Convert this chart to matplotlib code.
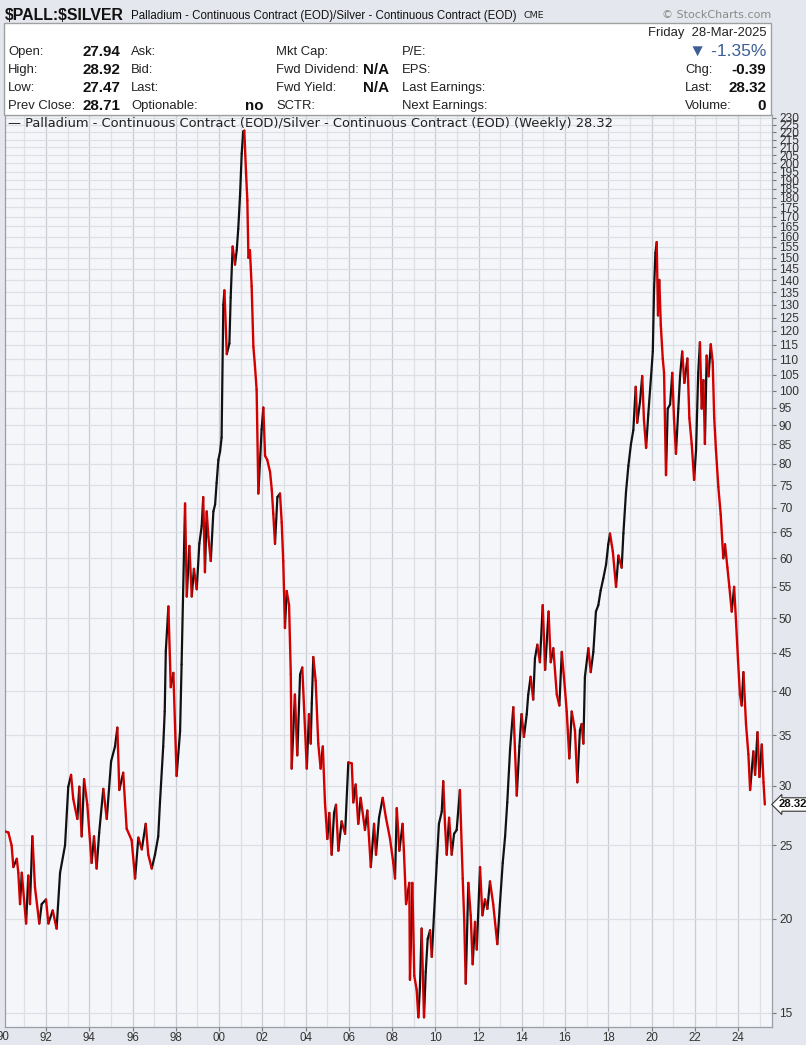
import numpy as np
import matplotlib
matplotlib.use("Agg")
import matplotlib.pyplot as plt
from matplotlib.collections import LineCollection
from matplotlib.patches import Rectangle
from matplotlib.ticker import FixedLocator, NullLocator, FixedFormatter

# ---------------- data (weekly ratio) ----------------
years = [1990.10, 1990.26, 1990.41, 1990.49, 1990.65, 1990.72, 1990.80, 1990.88, 1991.08, 1991.18,
         1991.26, 1991.37, 1991.49, 1991.69, 1991.80, 1992.00, 1992.11, 1992.31, 1992.49, 1992.65,
         1992.88, 1993.03, 1993.16, 1993.26, 1993.45, 1993.54, 1993.65, 1993.76, 1993.91, 1994.11,
         1994.22, 1994.34, 1994.46, 1994.65, 1994.81, 1995.01, 1995.19, 1995.30, 1995.39, 1995.57,
         1995.73, 1995.96, 1996.12, 1996.27, 1996.43, 1996.61, 1996.73, 1996.89, 1997.04, 1997.19,
         1997.27, 1997.42, 1997.49, 1997.54, 1997.66, 1997.77, 1997.89, 1998.04, 1998.20, 1998.27,
         1998.38, 1998.43, 1998.51, 1998.63, 1998.74, 1998.84, 1998.97, 1999.09, 1999.20, 1999.27,
         1999.35, 1999.43, 1999.51, 1999.62, 1999.74, 1999.82, 1999.89, 1999.97, 2000.05, 2000.12,
         2000.20, 2000.25, 2000.36, 2000.48, 2000.54, 2000.63, 2000.74, 2000.82, 2000.89, 2000.97,
         2001.05, 2001.12, 2001.17, 2001.25, 2001.31, 2001.36, 2001.43, 2001.51, 2001.59, 2001.66,
         2001.74, 2001.82, 2001.90, 2001.97, 2002.05, 2002.13, 2002.23, 2002.36, 2002.44, 2002.51,
         2002.59, 2002.70, 2002.82, 2002.90, 2002.97, 2003.05, 2003.13, 2003.24, 2003.32, 2003.36,
         2003.51, 2003.62, 2003.75, 2003.85, 2003.98, 2004.06, 2004.16, 2004.24, 2004.29, 2004.36,
         2004.47, 2004.59, 2004.70, 2004.80, 2004.90, 2005.01, 2005.10, 2005.21, 2005.32, 2005.41,
         2005.52, 2005.67, 2005.83, 2005.98, 2006.14, 2006.21, 2006.32, 2006.44, 2006.55, 2006.75,
         2006.86, 2007.02, 2007.17, 2007.26, 2007.40, 2007.57, 2007.72, 2007.91, 2008.06, 2008.14,
         2008.22, 2008.34, 2008.49, 2008.55, 2008.65, 2008.80, 2008.83, 2008.94, 2009.03, 2009.14,
         2009.22, 2009.29, 2009.37, 2009.48, 2009.56, 2009.65, 2009.76, 2009.84, 2009.94, 2010.07,
         2010.17, 2010.30, 2010.37, 2010.45, 2010.53, 2010.64, 2010.76, 2010.87, 2010.99, 2011.14,
         2011.27, 2011.34, 2011.41, 2011.53, 2011.64, 2011.73, 2011.84, 2011.92, 2012.07, 2012.18,
         2012.30, 2012.41, 2012.53, 2012.68, 2012.87, 2012.99, 2013.12, 2013.23, 2013.33, 2013.46,
         2013.61, 2013.77, 2013.89, 2013.99, 2014.10, 2014.23, 2014.30, 2014.41, 2014.53, 2014.61,
         2014.72, 2014.84, 2014.97, 2015.08, 2015.24, 2015.34, 2015.46, 2015.62, 2015.74, 2015.85,
         2016.00, 2016.08, 2016.20, 2016.31, 2016.46, 2016.57, 2016.69, 2016.77, 2016.85, 2016.92,
         2017.08, 2017.19, 2017.31, 2017.43, 2017.54, 2017.65, 2017.77, 2017.90, 2018.00, 2018.08,
         2018.21, 2018.36, 2018.47, 2018.62, 2018.70, 2018.82, 2018.93, 2019.05, 2019.16, 2019.27,
         2019.34, 2019.47, 2019.57, 2019.65, 2019.75, 2019.85, 2019.98, 2020.06, 2020.12, 2020.18,
         2020.24, 2020.30, 2020.36, 2020.43, 2020.52, 2020.58, 2020.67, 2020.75, 2020.86, 2020.96,
         2021.04, 2021.13, 2021.24, 2021.32, 2021.42, 2021.52, 2021.66, 2021.75, 2021.86, 2021.97,
         2022.06, 2022.16, 2022.24, 2022.32, 2022.40, 2022.47, 2022.55, 2022.64, 2022.74, 2022.83,
         2022.90, 2022.98, 2023.09, 2023.20, 2023.32, 2023.40, 2023.51, 2023.60, 2023.71, 2023.82,
         2023.91, 2024.00, 2024.09, 2024.17, 2024.25, 2024.37, 2024.48, 2024.56, 2024.71, 2024.79,
         2024.90, 2024.99, 2025.10, 2025.18, 2025.24]

ratio = [26.1, 26.0, 25.0, 23.4, 24.0, 23.0, 20.9, 23.0, 19.7, 22.8,
         20.9, 25.7, 22.0, 19.7, 20.9, 21.2, 19.7, 20.5, 19.4, 23.0,
         25.0, 29.9, 31.0, 28.8, 27.1, 29.9, 25.7, 30.6, 28.3, 23.7,
         25.7, 23.3, 26.0, 29.7, 27.1, 32.3, 33.8, 35.8, 29.6, 31.2,
         26.3, 25.4, 22.6, 25.6, 24.7, 26.7, 24.3, 23.3, 24.3, 25.7,
         28.5, 33.8, 37.6, 45.2, 51.8, 40.5, 42.3, 30.9, 35.4, 43.4,
         61.0, 70.9, 53.4, 62.3, 53.4, 58.1, 54.6, 62.7, 66.2, 72.3,
         57.5, 69.2, 64.0, 59.5, 69.2, 70.7, 75.5, 81.0, 83.1, 86.7,
         129.9, 135.8, 111.8, 115.5, 132.9, 155.2, 146.9, 153.5, 163.8, 180.8,
         206.1, 220.4, 221.0, 194.4, 178.8, 150.0, 153.5, 137.5, 114.3, 108.1,
         100.3, 73.1, 81.0, 88.9, 95.0, 82.0, 81.0, 78.1, 74.0, 68.7,
         62.7, 72.3, 73.1, 66.9, 59.5, 48.5, 54.3, 52.0, 42.1, 31.6,
         39.6, 32.9, 42.1, 43.0, 35.5, 31.6, 37.3, 34.1, 38.5, 44.4,
         41.3, 34.1, 31.6, 33.8, 28.5, 25.5, 27.6, 24.3, 27.6, 28.3,
         24.6, 26.9, 25.9, 32.2, 32.1, 28.5, 30.1, 26.7, 28.9, 26.2,
         27.8, 23.4, 26.7, 24.3, 27.2, 28.9, 27.2, 25.5, 23.7, 22.6,
         28.0, 24.6, 26.7, 24.6, 20.9, 22.3, 16.6, 22.3, 16.8, 16.1,
         14.8, 16.2, 19.4, 14.8, 17.0, 18.8, 19.3, 17.8, 20.2, 23.7,
         26.7, 27.7, 30.4, 26.7, 24.3, 27.2, 24.3, 25.9, 26.2, 29.6,
         22.6, 19.9, 16.4, 22.3, 20.2, 17.4, 19.8, 18.2, 23.4, 20.2,
         21.2, 20.6, 22.4, 20.9, 18.5, 20.9, 23.7, 25.7, 28.5, 33.5,
         38.1, 29.1, 33.8, 37.3, 34.8, 37.3, 39.6, 41.8, 39.0, 44.2,
         46.1, 43.7, 52.0, 42.7, 51.0, 43.7, 45.6, 39.6, 38.3, 45.1,
         40.2, 37.6, 32.6, 37.6, 35.5, 30.3, 35.5, 36.2, 34.1, 41.8,
         45.6, 42.4, 45.1, 51.0, 52.0, 54.4, 56.4, 58.9, 62.6, 64.7,
         61.3, 55.0, 60.5, 58.3, 64.7, 73.4, 79.5, 85.0, 88.7, 101.2,
         90.7, 96.8, 104.6, 91.6, 84.0, 93.0, 104.6, 112.7, 136.9, 152.2,
         157.3, 125.8, 140.2, 122.2, 110.3, 105.6, 77.3, 94.7, 95.9, 105.6,
         92.0, 82.5, 94.7, 104.5, 112.7, 102.4, 110.3, 92.0, 85.0, 76.2,
         83.5, 105.6, 115.9, 94.7, 103.3, 85.0, 111.3, 104.5, 115.2, 109.0,
         92.0, 83.5, 74.6, 68.6, 60.0, 62.6, 58.3, 55.0, 51.0, 55.0,
         49.4, 44.0, 39.6, 38.3, 42.4, 36.2, 33.0, 29.6, 33.3, 31.0,
         35.3, 30.8, 34.0, 30.3, 28.32]

year_ticks = list(range(1992, 2025, 2))
year_labels = ["%02d" % (y % 100) for y in year_ticks]
price_ticks = list(range(15, 231, 5))
price_labels = [str(v) for v in price_ticks]

# ---------------- figure ----------------
W, H = 806, 1045
fig = plt.figure(figsize=(W / 100, H / 100), dpi=100, facecolor="#e4e7ed")

def fx(px):
    return px / W

def fy(py):
    return 1 - py / H

SANS = ["Liberation Sans", "DejaVu Sans"]

# header
fig.text(fx(5), fy(15), r"\$PALL:\$SILVER", fontsize=11.4, fontweight="bold",
         family=SANS, va="center", ha="left", color="#111111")
fig.text(fx(131), fy(15.5), "Palladium - Continuous Contract (EOD)/Silver - Continuous Contract (EOD)",
         fontsize=8.3, family=SANS, va="center", ha="left", color="#111111")
fig.text(fx(523), fy(16), "CME", fontsize=6.8, family=["DejaVu Sans"], va="center", ha="left",
         color="#222222")
fig.text(fx(771), fy(15.5), "\u00a9 StockCharts.com", fontsize=8, family=["DejaVu Sans"],
         va="center", ha="right", color="#8a8a8a")

# info box
fig.patches.append(Rectangle((fx(4), fy(115)), (771 - 4) / W, (115 - 23) / H,
                             transform=fig.transFigure, facecolor="white",
                             edgecolor="#a0a0a0", lw=1.0, zorder=0))

lab_kw = dict(fontsize=9.4, family=SANS, va="center", color="#222222")
val_kw = dict(fontsize=10.9, family=SANS, va="center", color="#111111", fontweight="bold")
rows_y = [52, 70, 88, 106]
col1 = ["Open:", "High:", "Low:", "Prev Close:"]
col1v = ["27.94", "28.92", "27.47", "28.71"]
col2 = ["Ask:", "Bid:", "Last:", "Optionable:"]
col3 = ["Mkt Cap:", "Fwd Dividend:", "Fwd Yield:", "SCTR:"]
col3v = ["", "N/A", "N/A", ""]
col4 = ["P/E:", "EPS:", "Last Earnings:", "Next Earnings:"]
for i, yy in enumerate(rows_y):
    fig.text(fx(8), fy(yy), col1[i], ha="left", **lab_kw)
    fig.text(fx(120), fy(yy), col1v[i], ha="right", **val_kw)
    fig.text(fx(131), fy(yy), col2[i], ha="left", **lab_kw)
    fig.text(fx(276), fy(yy), col3[i], ha="left", **lab_kw)
    if col3v[i]:
        fig.text(fx(389), fy(yy), col3v[i], ha="right", **val_kw)
    fig.text(fx(402), fy(yy), col4[i], ha="left", **lab_kw)
fig.text(fx(263), fy(106), "no", ha="right", **val_kw)

fig.text(fx(766), fy(33), "Friday  28-Mar-2025", ha="right", **lab_kw)
fig.text(fx(766), fy(51), "\u25bc -1.35%", ha="right", fontsize=12.5, family=SANS,
         va="center", color="#3b5f95")
for yy, lab, val in [(70, "Chg:", "-0.39"), (88, "Last:", "28.32"), (106, "Volume:", "0")]:
    fig.text(fx(685), fy(yy), lab, ha="left", **lab_kw)
    fig.text(fx(766), fy(yy), val, ha="right", **val_kw)

# ---------------- plot ----------------
ax = fig.add_axes([fx(5), 18 / H, (772 - 5) / W, (1027 - 115) / H])
ax.set_facecolor("#f5f6fa")
ax.set_yscale("log")
ax.set_ylim(14.37, 231.8)
ax.set_xlim(1990.104, 2025.572)

for yr in range(1991, 2026):
    ax.axvline(yr, color="#c9ced6" if yr % 2 == 0 else "#dde1e7", lw=0.9, zorder=1)
for v in price_ticks:
    ax.axhline(v, color="#dcdfe5", lw=0.9, zorder=1)

x = np.array(years)
yv = np.array(ratio)
pts = np.column_stack([x, yv])
segs = np.stack([pts[:-1], pts[1:]], axis=1)
up = yv[1:] > yv[:-1]
lc_up = LineCollection(segs[up], colors="#111111", linewidths=1.6, zorder=3,
                       capstyle="round", joinstyle="round")
lc_dn = LineCollection(segs[~up], colors="#d40000", linewidths=1.7, zorder=4,
                       capstyle="round", joinstyle="round")
ax.add_collection(lc_up)
ax.add_collection(lc_dn)

ax.yaxis.tick_right()
ax.yaxis.set_major_locator(FixedLocator(price_ticks))
ax.yaxis.set_major_formatter(FixedFormatter(price_labels))
ax.yaxis.set_minor_locator(NullLocator())
ax.tick_params(axis="y", which="major", length=3, width=0.8, color="#777777",
               labelsize=8.6, labelcolor="#333333", pad=2)
for t in ax.get_yticklabels():
    t.set_family(SANS)

ax.xaxis.set_major_locator(FixedLocator(year_ticks))
ax.xaxis.set_major_formatter(FixedFormatter(year_labels))
ax.xaxis.set_minor_locator(NullLocator())
ax.tick_params(axis="x", which="major", length=3, width=0.8, color="#777777",
               labelsize=8.3, labelcolor="#333333", pad=0.8)
for t in ax.get_xticklabels():
    t.set_family(SANS)
fig.text(fx(3), fy(1037), "90", ha="center", va="center", fontsize=8.3,
         family=SANS, color="#333333")

for s in ax.spines.values():
    s.set_color("#9a9ea6")
    s.set_linewidth(0.9)

# legend line
ax.text(0.004, 0.9905, "\u2014 Palladium - Continuous Contract (EOD)/Silver - Continuous Contract (EOD) (Weekly) 28.32",
        transform=ax.transAxes, ha="left", va="center", fontsize=9.35,
        family=["DejaVu Sans"], color="#222222", zorder=5)

# last value tag
last = ratio[-1]
ax.annotate("%.2f" % last, xy=(1.0, last), xycoords=("axes fraction", "data"),
            xytext=(5, 0), textcoords="offset points", ha="left", va="center",
            fontsize=8.2, fontweight="bold", family=SANS, color="#111111",
            annotation_clip=False,
            bbox=dict(boxstyle="larrow,pad=0.15", facecolor="white", edgecolor="#333333", lw=0.8))

fig.savefig("out.png", dpi=100, facecolor=fig.get_facecolor())
